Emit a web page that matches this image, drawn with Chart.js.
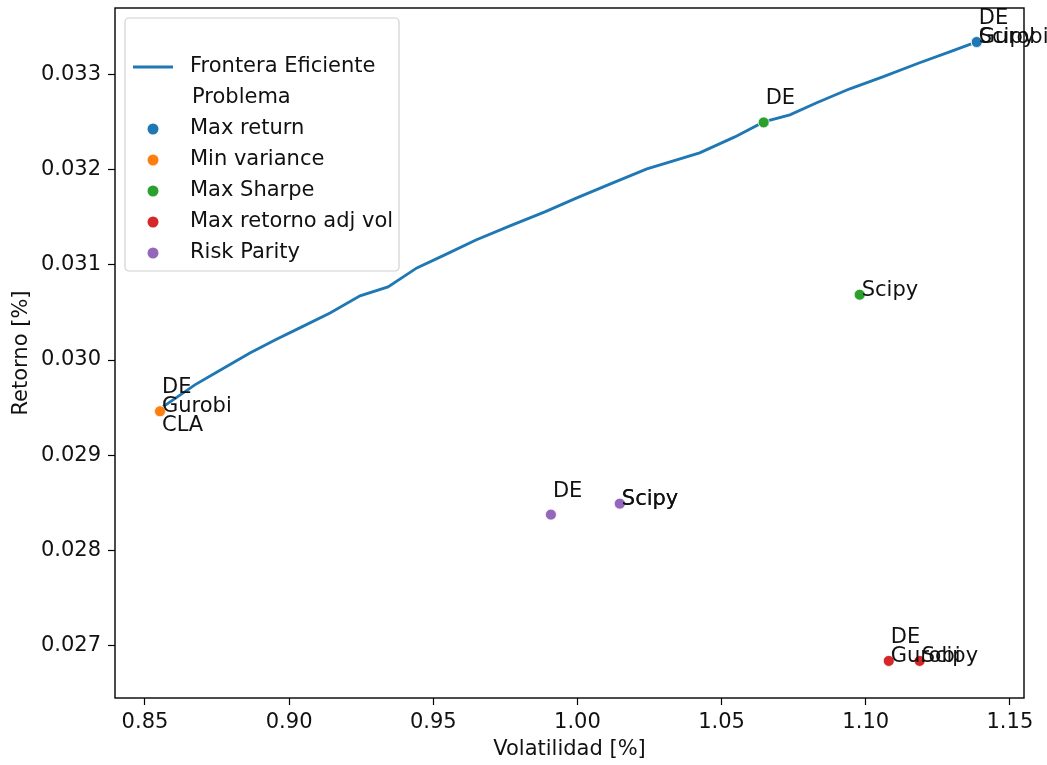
<!DOCTYPE html>
<html>
<head>
<meta charset="utf-8">
<script src="https://cdn.jsdelivr.net/npm/chart.js@4.4.1/dist/chart.umd.min.js"></script>
<style>
  html, body { margin: 0; padding: 0; background: #fff; }
  #wrap { width: 1047px; height: 765px; position: relative; }
</style>
</head>
<body>
<div id="wrap"><canvas id="chart1"></canvas></div>
<script>
/* Frontera eficiente (volatilidad, retorno) */
const fronteraVol = [0.8562, 0.8673, 0.8750, 0.8864, 0.8951, 0.9037, 0.9142, 0.9246, 0.9343, 0.9443,
  0.9540, 0.9648, 0.9766, 0.9887, 0.9998, 1.0123, 1.0241, 1.0310, 1.0424, 1.0546,
  1.0646, 1.0737, 1.0830, 1.0945, 1.1059, 1.1187, 1.1291, 1.1385];
const fronteraRet = [0.029508, 0.029739, 0.029875, 0.030074, 0.030211, 0.030337, 0.030494, 0.030673, 0.030767, 0.030966,
  0.031103, 0.031260, 0.031407, 0.031554, 0.031701, 0.031858, 0.032005, 0.032068, 0.032173, 0.032341,
  0.032498, 0.032572, 0.032698, 0.032845, 0.032971, 0.033118, 0.033233, 0.033338];

/* Problemas: cada uno con sus soluciones por metodo */
const problemas = ['Max return', 'Min variance', 'Max Sharpe', 'Max retorno adj vol', 'Risk Parity'];
const colores = ['#1f77b4', '#ff7f0e', '#2ca02c', '#d62728', '#9467bd'];

const maxReturnVol = [1.1385, 1.1385, 1.1385];
const maxReturnRet = [0.033336, 0.033336, 0.033336];
const maxReturnMetodo = ['DE', 'Gurobi', 'Scipy'];

const minVarVol = [0.8552, 0.8552, 0.8552];
const minVarRet = [0.029462, 0.029462, 0.029462];
const minVarMetodo = ['DE', 'Gurobi', 'CLA'];

const maxSharpeVol = [1.0646, 1.0979];
const maxSharpeRet = [0.032493, 0.030685];
const maxSharpeMetodo = ['DE', 'Scipy'];

const adjVolVol = [1.1080, 1.1080, 1.1187];
const adjVolRet = [0.026843, 0.026843, 0.026843];
const adjVolMetodo = ['DE', 'Gurobi', 'Scipy'];

const riskParityVol = [0.9908, 1.0147, 1.0147];
const riskParityRet = [0.028378, 0.028493, 0.028493];
const riskParityMetodo = ['DE', 'Scipy', 'Scipy'];

const xTicks = [0.85, 0.90, 0.95, 1.00, 1.05, 1.10, 1.15];
const yTicks = [0.027, 0.028, 0.029, 0.030, 0.031, 0.032, 0.033];

const puntos = [
  [maxReturnVol, maxReturnRet, maxReturnMetodo],
  [minVarVol, minVarRet, minVarMetodo],
  [maxSharpeVol, maxSharpeRet, maxSharpeMetodo],
  [adjVolVol, adjVolRet, adjVolMetodo],
  [riskParityVol, riskParityRet, riskParityMetodo]
];

const FONT = 'DejaVu Sans';
const FSIZE = 21;
const TXT = '#111';
Chart.defaults.font.family = FONT;
Chart.defaults.font.size = FSIZE;
Chart.defaults.color = TXT;

const datasets = [{
  label: 'Frontera Eficiente',
  type: 'line',
  data: fronteraVol.map((v, i) => ({x: v, y: fronteraRet[i]})),
  borderColor: '#1f77b4',
  borderWidth: 2.8,
  pointRadius: 0,
  tension: 0,
  fill: false,
  order: 10
}];
puntos.forEach((p, k) => {
  datasets.push({
    label: problemas[k],
    data: p[0].map((v, i) => ({x: v, y: p[1][i]})),
    metodos: p[2],
    backgroundColor: colores[k],
    borderColor: '#fff',
    borderWidth: 0.8,
    pointRadius: 5.5,
    pointHoverRadius: 5.5,
    order: 1
  });
});

/* etiquetas de metodo junto a cada punto */
const etiquetas = {
  id: 'etiquetas',
  afterDatasetsDraw(chart) {
    const ctx = chart.ctx;
    ctx.save();
    ctx.font = FSIZE + 'px ' + FONT;
    ctx.fillStyle = TXT;
    ctx.textAlign = 'left';
    ctx.textBaseline = 'alphabetic';
    chart.data.datasets.forEach((ds, i) => {
      if (!ds.metodos) return;
      const meta = chart.getDatasetMeta(i);
      meta.data.forEach((pt, j) => {
        const m = ds.metodos[j];
        let dy = 1;
        if (m === 'DE') dy = -18;
        if (m === 'CLA') dy = 20;
        ctx.fillText(m, pt.x + 2, pt.y + dy);
      });
    });
    ctx.restore();
  }
};

/* marco y leyenda al estilo matplotlib */
const marcoLeyenda = {
  id: 'marcoLeyenda',
  afterDraw(chart) {
    const ctx = chart.ctx;
    const a = chart.chartArea;
    ctx.save();
    ctx.strokeStyle = '#000';
    ctx.lineWidth = 1.4;
    ctx.strokeRect(a.left, a.top, a.right - a.left, a.bottom - a.top);

    const bx = a.left + 10, by = a.top + 10, bw = 274, bh = 253;
    ctx.beginPath();
    ctx.roundRect(bx, by, bw, bh, 4);
    ctx.fillStyle = 'rgba(255,255,255,0.85)';
    ctx.fill();
    ctx.strokeStyle = '#d0d0d0';
    ctx.lineWidth = 1.2;
    ctx.stroke();

    ctx.font = FSIZE + 'px ' + FONT;
    ctx.fillStyle = TXT;
    ctx.textBaseline = 'middle';
    ctx.textAlign = 'left';
    const textX = bx + 65;
    const fila0 = by + 49;
    const paso = 31;
    // linea de la frontera
    ctx.strokeStyle = '#1f77b4';
    ctx.lineWidth = 2.8;
    ctx.beginPath();
    ctx.moveTo(bx + 8, fila0);
    ctx.lineTo(bx + 48, fila0);
    ctx.stroke();
    ctx.fillText(datasets[0].label, textX, fila0);
    ctx.fillText('Problema', textX + 2, fila0 + paso);
    problemas.forEach((p, k) => {
      const y = fila0 + paso * (k + 2);
      ctx.beginPath();
      ctx.arc(bx + 28, y, 5.5, 0, Math.PI * 2);
      ctx.fillStyle = colores[k];
      ctx.fill();
      ctx.fillStyle = TXT;
      ctx.fillText(p, textX, y);
    });
    ctx.restore();
  }
};

const chart1 = document.getElementById('chart1');
const myChart1 = new Chart(chart1, {
  type: 'scatter',
  data: { datasets: datasets },
  options: {
    responsive: true,
    maintainAspectRatio: false,
    animation: false,
    layout: { padding: { left: 0, top: 8, right: 23, bottom: 0 } },
    plugins: {
      legend: { display: false },
      tooltip: { enabled: false }
    },
    scales: {
      x: {
        type: 'linear',
        min: 0.8396,
        max: 1.1549,
        afterBuildTicks: (s) => { s.ticks = xTicks.map(v => ({value: v})); },
        afterFit: (s) => { s.height = 67; s.paddingLeft = 0; s.paddingRight = 0; },
        ticks: {
          color: TXT,
          padding: 5,
          maxRotation: 0,
          callback: (v) => v.toFixed(2)
        },
        grid: { drawOnChartArea: false, color: '#000', tickLength: 7, tickWidth: 1.2 },
        border: { display: false },
        title: { display: true, text: 'Volatilidad [%]', color: TXT, padding: { top: 0, bottom: 3 } }
      },
      y: {
        type: 'linear',
        min: 0.026454,
        max: 0.033693,
        afterBuildTicks: (s) => { s.ticks = yTicks.map(v => ({value: v})); },
        afterFit: (s) => { s.width = 115; s.paddingTop = 0; s.paddingBottom = 0; },
        ticks: {
          color: TXT,
          padding: 7,
          callback: (v) => v.toFixed(3)
        },
        grid: { drawOnChartArea: false, color: '#000', tickLength: 7, tickWidth: 1.2 },
        border: { display: false },
        title: { display: true, text: 'Retorno [%]', color: TXT, padding: { top: 9, bottom: 0 } }
      }
    }
  },
  plugins: [etiquetas, marcoLeyenda]
});
</script>
</body>
</html>
